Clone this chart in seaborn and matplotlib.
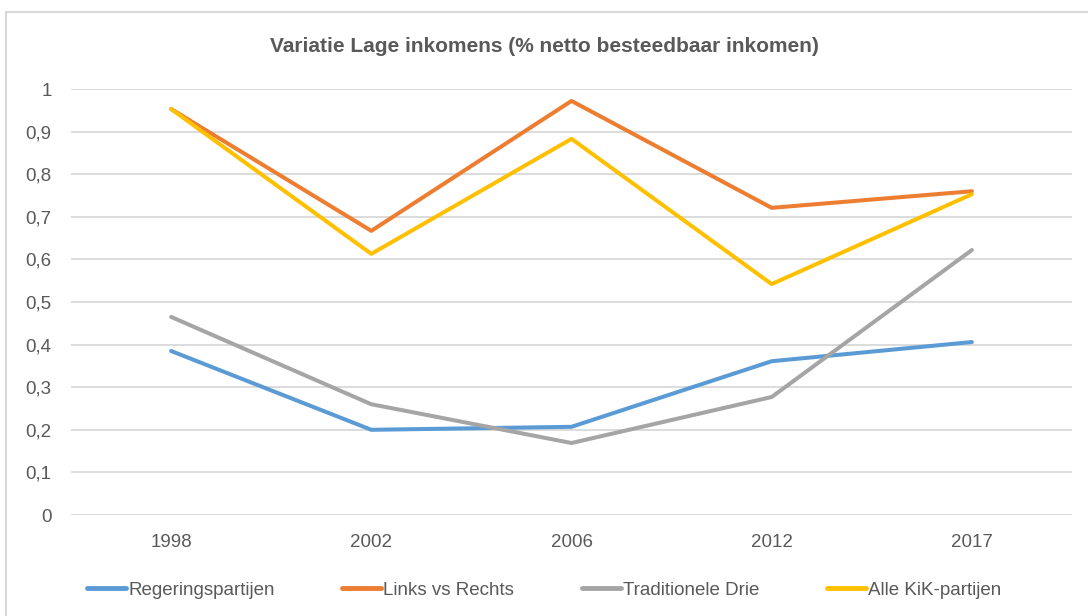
import pandas as pd
import seaborn as sns
import matplotlib.pyplot as plt
from matplotlib.patches import Rectangle

years = ["1998", "2002", "2006", "2012", "2017"]
regering = [0.385, 0.200, 0.207, 0.361, 0.406]
links_rechts = [0.953, 0.667, 0.972, 0.721, 0.760]
trad_drie = [0.465, 0.260, 0.169, 0.277, 0.622]
alle_kik = [0.953, 0.613, 0.883, 0.542, 0.753]

series = ["Regeringspartijen", "Links vs Rechts", "Traditionele Drie", "Alle KiK-partijen"]
colors = ["#5B9BD5", "#ED7D31", "#A5A5A5", "#FFC000"]

df = pd.DataFrame({"jaar": years * 4,
                   "waarde": regering + links_rechts + trad_drie + alle_kik,
                   "reeks": [s for s in series for _ in years]})

sns.set_theme(style="white")
plt.rcParams['font.family'] = ['Liberation Sans', 'DejaVu Sans']
txt = "#595959"

fig = plt.figure(figsize=(10.88, 6.16), dpi=100)
ax = fig.add_axes([71/1088, 1-515/616, 1001/1088, 426/616])

sns.lineplot(data=df, x="jaar", y="waarde", hue="reeks", palette=colors,
             hue_order=series, sort=False, linewidth=2.9, ax=ax, legend=False)

ax.set_xlim(-0.5, 4.5)
ax.set_ylim(0, 1)
yt = [i / 10 for i in range(11)]
ax.set_yticks(yt)
ax.set_yticklabels(["0" if v == 0 else "1" if v == 1 else f"{v:.1f}".replace(".", ",") for v in yt])
ax.grid(axis="y", color="#D9D9D9", linewidth=1.3)
ax.grid(axis="x", visible=False)
for s in ax.spines.values():
    s.set_visible(False)
ax.tick_params(axis="y", length=0, pad=14, labelsize=13.5, labelcolor=txt)
ax.tick_params(axis="x", length=0, pad=14, labelsize=13.5, labelcolor=txt)
ax.set_xlabel("")
ax.set_ylabel("")

fig.text(0.5, 1-46/616, "Variatie Lage inkomens (% netto besteedbaar inkomen)",
         ha="center", va="center", fontsize=15, fontweight="bold", color=txt)

handles = [plt.Line2D([], [], color=c, linewidth=3.5) for c in colors]
fig.legend(handles, series, loc="center", bbox_to_anchor=(0.5, 1-590/616), ncol=4,
           frameon=False, fontsize=13.5, labelcolor=txt, handlelength=2.1,
           handletextpad=0.1, columnspacing=3.6)

fig.patches.append(Rectangle((6/1088, -0.01), 1.02, 1-12/616 + 0.01, transform=fig.transFigure,
                             fill=False, edgecolor="#D9D9D9", linewidth=1.5))

fig.savefig("out.png", dpi=100)
